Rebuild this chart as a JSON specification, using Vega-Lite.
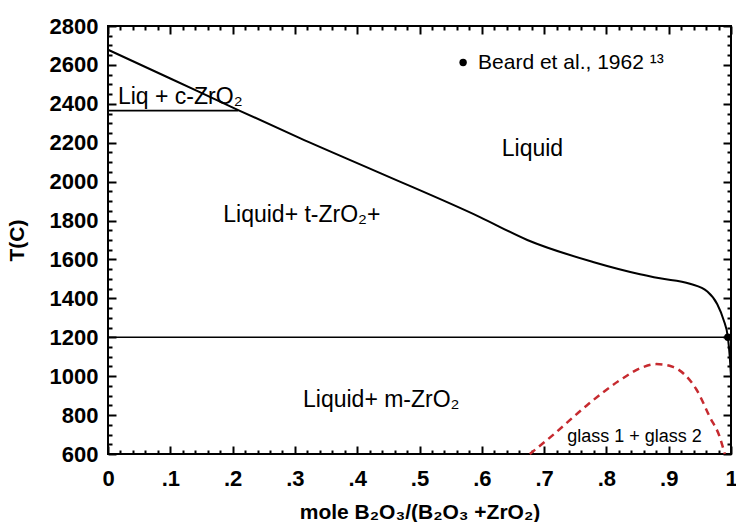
{
  "$schema": "https://vega.github.io/schema/vega-lite/v6.json",
  "width": 623,
  "height": 428,
  "autosize": {"type": "none"},
  "padding": {"left": 108, "top": 26, "right": 5, "bottom": 68},
  "background": "white",
  "config": {
    "view": {"stroke": "black", "strokeWidth": 2},
    "font": "Liberation Sans",
    "axis": {"domain": false, "grid": false, "ticks": true, "tickWidth": 2, "zindex": 10, "labelColor": "black", "titleColor": "black", "labelFont": "Liberation Sans", "titleFont": "Liberation Sans"}
  },
  "datasets": {
    "liquidus": [
      {"x": 0, "T": 2678}, {"x": 0.1, "T": 2530}, {"x": 0.209, "T": 2368}, {"x": 0.308, "T": 2224},
      {"x": 0.437, "T": 2044}, {"x": 0.597, "T": 1818}, {"x": 0.673, "T": 1700}, {"x": 0.7785, "T": 1587},
      {"x": 0.854, "T": 1524}, {"x": 0.886, "T": 1503}, {"x": 0.934, "T": 1475}, {"x": 0.962, "T": 1435},
      {"x": 0.978, "T": 1370}, {"x": 0.988, "T": 1290}, {"x": 0.995, "T": 1200}, {"x": 0.998, "T": 1100},
      {"x": 1.0, "T": 1000}
    ],
    "horiz": [
      {"series": "c-ZrO2", "x": 0, "T": 2365}, {"series": "c-ZrO2", "x": 0.209, "T": 2365},
      {"series": "eutectic", "x": 0, "T": 1200}, {"series": "eutectic", "x": 1, "T": 1200}
    ],
    "miscibility": [
      {"x": 0.677, "T": 600}, {"x": 0.714, "T": 697}, {"x": 0.769, "T": 851}, {"x": 0.822, "T": 980},
      {"x": 0.859, "T": 1047}, {"x": 0.88, "T": 1062}, {"x": 0.905, "T": 1050}, {"x": 0.925, "T": 1010}, {"x": 0.945, "T": 929},
      {"x": 0.966, "T": 790}, {"x": 0.982, "T": 687}, {"x": 0.99, "T": 600}
    ],
    "points": [
      {"x": 0.995, "T": 1200}, {"x": 0.57, "T": 2612}
    ],
    "regionLabels": [
      {"x": 0.016, "T": 2435, "label": "Liq + c-ZrO₂"},
      {"x": 0.632, "T": 2168, "label": "Liquid"},
      {"x": 0.185, "T": 1829, "label": "Liquid+ t-ZrO₂+"},
      {"x": 0.313, "T": 878, "label": "Liquid+ m-ZrO₂"}
    ],
    "smallLabels": [
      {"x": 0.737, "T": 687, "label": "glass 1 + glass 2"}
    ],
    "refLabels": [
      {"x": 0.594, "T": 2612, "label": "Beard et al., 1962 ¹³"}
    ]
  },
  "layer": [
    {
      "data": {"name": "liquidus"},
      "mark": {"type": "line", "color": "black", "strokeWidth": 2, "interpolate": "monotone"},
      "encoding": {
        "x": {"field": "x", "type": "quantitative", "scale": {"domain": [0, 1], "nice": false},
          "axis": {
            "orient": "bottom", "values": [0, 0.1, 0.2, 0.3, 0.4, 0.5, 0.6, 0.7, 0.8, 0.9, 1],
            "tickSize": -8, "tickColor": "#000000",
            "labelExpr": "datum.value == 0 ? '0' : datum.value == 1 ? '1' : replace(format(datum.value, '.1f'), '0.', '.')",
            "labelFontSize": 22, "labelFontWeight": "bold", "labelPadding": 22, "labelFlush": false, "labelOverlap": false,
            "title": "mole B₂O₃/(B₂O₃ +ZrO₂)", "titleFontSize": 21, "titleFontWeight": "bold", "titlePadding": 12
          }
        },
        "y": {"field": "T", "type": "quantitative", "scale": {"domain": [600, 2800], "nice": false, "zero": false},
          "axis": {
            "orient": "left", "values": [600, 800, 1000, 1200, 1400, 1600, 1800, 2000, 2200, 2400, 2600, 2800],
            "tickSize": -8, "tickColor": "#000000", "format": "d",
            "labelFontSize": 22, "labelFontWeight": "bold", "labelPadding": 18, "labelFlush": false, "labelOverlap": false,
            "title": "T(C)", "titleFontSize": 21, "titleFontWeight": "bold", "titlePadding": 22
          }
        }
      }
    },
    {
      "data": {"name": "horiz"},
      "mark": {"type": "line", "color": "black", "strokeWidth": 1.6},
      "encoding": {
        "detail": {"field": "series"},
        "x": {"field": "x", "type": "quantitative", "scale": {"domain": [0, 1], "nice": false},
          "axis": {"orient": "top", "labels": false, "title": null, "tickSize": -8, "tickColor": "#000000",
            "values": [0, 0.1, 0.2, 0.3, 0.4, 0.5, 0.6, 0.7, 0.8, 0.9, 1]}
        },
        "y": {"field": "T", "type": "quantitative", "scale": {"domain": [600, 2800], "nice": false, "zero": false},
          "axis": {"orient": "right", "labels": false, "title": null, "tickSize": -8, "tickColor": "#000000",
            "values": [600, 800, 1000, 1200, 1400, 1600, 1800, 2000, 2200, 2400, 2600, 2800]}
        }
      }
    },
    {
      "data": {"name": "miscibility"},
      "mark": {"type": "line", "color": "#c62a2f", "strokeWidth": 2.5, "strokeDash": [7, 5], "interpolate": "monotone"},
      "encoding": {
        "x": {"field": "x", "type": "quantitative", "scale": {"domain": [0, 1], "nice": false},
          "axis": {"orient": "bottom", "labels": false, "title": null, "tickSize": -4, "tickColor": "#000000",
            "values": [0.02,0.04,0.06,0.08,0.12,0.14,0.16,0.18,0.22,0.24,0.26,0.28,0.32,0.34,0.36,0.38,0.42,0.44,0.46,0.48,0.52,0.54,0.56,0.58,0.62,0.64,0.66,0.68,0.72,0.74,0.76,0.78,0.82,0.84,0.86,0.88,0.92,0.94,0.96,0.98]}
        },
        "y": {"field": "T", "type": "quantitative", "scale": {"domain": [600, 2800], "nice": false, "zero": false},
          "axis": {"orient": "left", "labels": false, "title": null, "tickSize": -4, "tickColor": "#000000",
            "values": [650,700,750,850,900,950,1050,1100,1150,1250,1300,1350,1450,1500,1550,1650,1700,1750,1850,1900,1950,2050,2100,2150,2250,2300,2350,2450,2500,2550,2650,2700,2750]}
        }
      }
    },
    {
      "data": {"name": "points"},
      "mark": {"type": "circle", "color": "black", "size": 55, "opacity": 1},
      "encoding": {
        "x": {"field": "x", "type": "quantitative", "scale": {"domain": [0, 1], "nice": false},
          "axis": {"orient": "top", "labels": false, "title": null, "tickSize": -4, "tickColor": "#000000",
            "values": [0.02,0.04,0.06,0.08,0.12,0.14,0.16,0.18,0.22,0.24,0.26,0.28,0.32,0.34,0.36,0.38,0.42,0.44,0.46,0.48,0.52,0.54,0.56,0.58,0.62,0.64,0.66,0.68,0.72,0.74,0.76,0.78,0.82,0.84,0.86,0.88,0.92,0.94,0.96,0.98]}
        },
        "y": {"field": "T", "type": "quantitative", "scale": {"domain": [600, 2800], "nice": false, "zero": false},
          "axis": {"orient": "right", "labels": false, "title": null, "tickSize": -4, "tickColor": "#000000",
            "values": [650,700,750,850,900,950,1050,1100,1150,1250,1300,1350,1450,1500,1550,1650,1700,1750,1850,1900,1950,2050,2100,2150,2250,2300,2350,2450,2500,2550,2650,2700,2750]}
        }
      }
    },
    {
      "data": {"name": "regionLabels"},
      "mark": {"type": "text", "align": "left", "baseline": "middle", "fontSize": 23, "font": "Liberation Sans", "color": "black"},
      "encoding": {
        "x": {"field": "x", "type": "quantitative", "axis": null},
        "y": {"field": "T", "type": "quantitative", "axis": null},
        "text": {"field": "label"}
      }
    },
    {
      "data": {"name": "smallLabels"},
      "mark": {"type": "text", "align": "left", "baseline": "middle", "fontSize": 18, "font": "Liberation Sans", "color": "black"},
      "encoding": {
        "x": {"field": "x", "type": "quantitative", "axis": null},
        "y": {"field": "T", "type": "quantitative", "axis": null},
        "text": {"field": "label"}
      }
    },
    {
      "data": {"name": "refLabels"},
      "mark": {"type": "text", "align": "left", "baseline": "middle", "fontSize": 21, "font": "Liberation Sans", "color": "black"},
      "encoding": {
        "x": {"field": "x", "type": "quantitative", "axis": null},
        "y": {"field": "T", "type": "quantitative", "axis": null},
        "text": {"field": "label"}
      }
    }
  ],
  "resolve": {"axis": {"x": "independent", "y": "independent"}}
}
